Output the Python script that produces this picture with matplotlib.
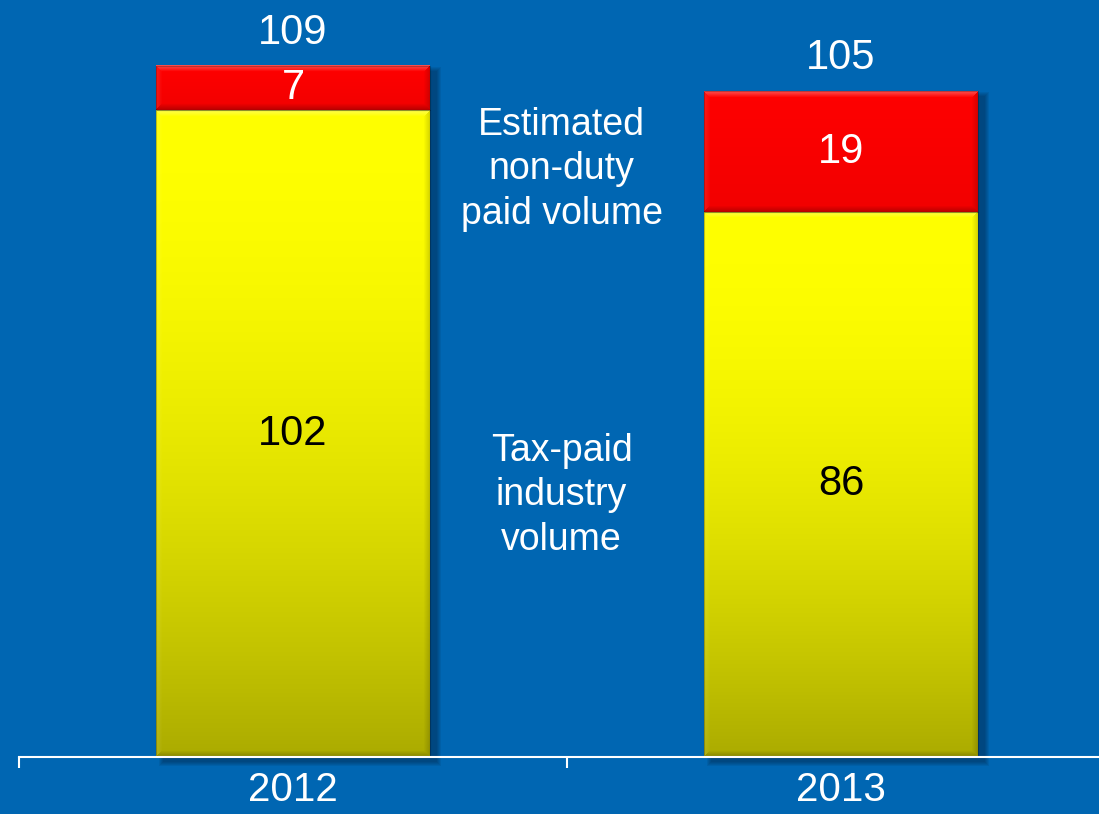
import numpy as np
import matplotlib
matplotlib.use("Agg")
import matplotlib.pyplot as plt
from matplotlib.patches import Rectangle
from matplotlib.colors import to_rgb

# ---- data -------------------------------------------------------------
years = ["2012", "2013"]
tax_paid = [102, 86]
non_duty = [7, 19]
totals = [t + n for t, n in zip(tax_paid, non_duty)]
series_labels = ["Tax-paid\nindustry\nvolume", "Estimated\nnon-duty\npaid volume"]

# ---- style ------------------------------------------------------------
BG = "#0066B2"
FONT = "Liberation Sans"
plt.rcParams["font.family"] = [FONT, "DejaVu Sans"]

W, H = 1099, 814
fig = plt.figure(figsize=(W / 100, H / 100), dpi=100, facecolor=BG)

base_px = 757          # pixel row of the baseline
cat_px = 548           # pixel width of one category
px_per_unit = 6.34     # vertical pixels per data unit
ax = fig.add_axes([19 / W, 1 - base_px / H, 1080 / W, base_px / H])
ax.set_facecolor(BG)

bar_w = 0.5


def bevel_image(w_px, h_px, top_rgb, bot_rgb, gamma=1.0, edge=6):
    """RGB array for a bevelled rectangle with a vertical gradient."""
    w_px, h_px = max(int(w_px), 2), max(int(h_px), 2)
    yy, xx = np.mgrid[0:h_px, 0:w_px]
    t = (yy / (h_px - 1)) ** gamma
    top = np.array(top_rgb)
    bot = np.array(bot_rgb)
    img = top[None, None, :] * (1 - t[..., None]) + bot[None, None, :] * t[..., None]

    dt = yy
    db = h_px - 1 - yy
    dl = xx
    dr = w_px - 1 - xx
    d = np.stack([dt, db, dl, dr])
    which = np.argmin(d, axis=0)
    dmin = np.min(d, axis=0)
    k = np.clip(1 - dmin / edge, 0, 1)

    white = np.ones(3)
    out = img.copy()
    # top highlight
    m = (which == 0)[..., None]
    out = np.where(m, img + (white - img) * (0.30 * k)[..., None], out)
    # left light
    m = (which == 2)[..., None]
    out = np.where(m, img + (white - img) * (0.10 * k)[..., None], out)
    # bottom shade
    m = (which == 1)[..., None]
    out = np.where(m, img * (1 - 0.22 * k)[..., None], out)
    # right shade
    m = (which == 3)[..., None]
    out = np.where(m, img * (1 - 0.15 * k)[..., None], out)
    return np.clip(out, 0, 1)


def draw_segment(x_center, bottom, height, top_col, bot_col, gamma):
    x0 = x_center - bar_w / 2
    img = bevel_image(bar_w * cat_px, height * px_per_unit,
                      to_rgb(top_col), to_rgb(bot_col), gamma)
    ax.imshow(img, extent=(x0, x0 + bar_w, bottom, bottom + height),
              aspect="auto", interpolation="bilinear", zorder=3)
    ax.add_patch(Rectangle((x0, bottom), bar_w, height, fill=False,
                           edgecolor=(0, 0, 0, 0.25), linewidth=0.8, zorder=4))


x = np.arange(len(years))

# soft drop shadow behind each stacked bar
sx = 7 / cat_px
sy = 5 / px_per_unit
for xi, tot in zip(x, totals):
    for i in range(5):
        grow = i * 2.0
        ax.add_patch(Rectangle((xi - bar_w / 2 + sx - grow / cat_px / 2, -sy - grow / px_per_unit / 2),
                               bar_w + grow / cat_px, tot + grow / px_per_unit,
                               facecolor="#001a33", edgecolor="none", alpha=0.09,
                               zorder=2, clip_on=False))

for xi, tp, nd in zip(x, tax_paid, non_duty):
    draw_segment(xi, 0, tp, "#FFFF00", "#ABAB00", 1.9)
    draw_segment(xi, tp, nd, "#FF0000", "#F20000", 1.0)

# value labels
for xi, tp, nd, tot in zip(x, tax_paid, non_duty, totals):
    ax.text(xi, tp / 2, f"{tp}", ha="center", va="center", fontsize=30,
            color="black", zorder=5)
    ax.text(xi, tp + nd / 2, f"{nd}", ha="center", va="center", fontsize=30,
            color="white", zorder=5)
    ax.annotate(f"{tot}", (xi, tot), xytext=(0, 33 * 0.72),
                textcoords="offset points", ha="center", va="center",
                fontsize=30, color="white", zorder=5)

# series captions between the bars
ax.text(0.49, 92.7, series_labels[1], ha="center", va="center", fontsize=27,
        color="white", linespacing=1.3, zorder=5)
ax.text(0.49, 41.3, series_labels[0], ha="center", va="center", fontsize=27,
        color="white", linespacing=1.3, zorder=5)

# axis styling
for s in ("top", "left", "right"):
    ax.spines[s].set_visible(False)
ax.spines["bottom"].set_color("white")
ax.spines["bottom"].set_linewidth(1.5)
ax.spines["bottom"].set_zorder(6)
ax.set_yticks([])
ax.set_xticks([-0.5, 0.5])
ax.set_xticklabels([])
ax.tick_params(axis="x", which="major", direction="out", length=8,
               width=1.5, color="white")
ax.set_xticks(x, minor=True)
ax.set_xticklabels(years, minor=True)
ax.tick_params(axis="x", which="minor", length=0, pad=10, labelsize=29,
               labelcolor="white")

ax.set_xlim(-0.5, -0.5 + 1080 / cat_px)
ax.set_ylim(0, base_px / px_per_unit)

fig.savefig("out.png", dpi=100, facecolor=BG)
